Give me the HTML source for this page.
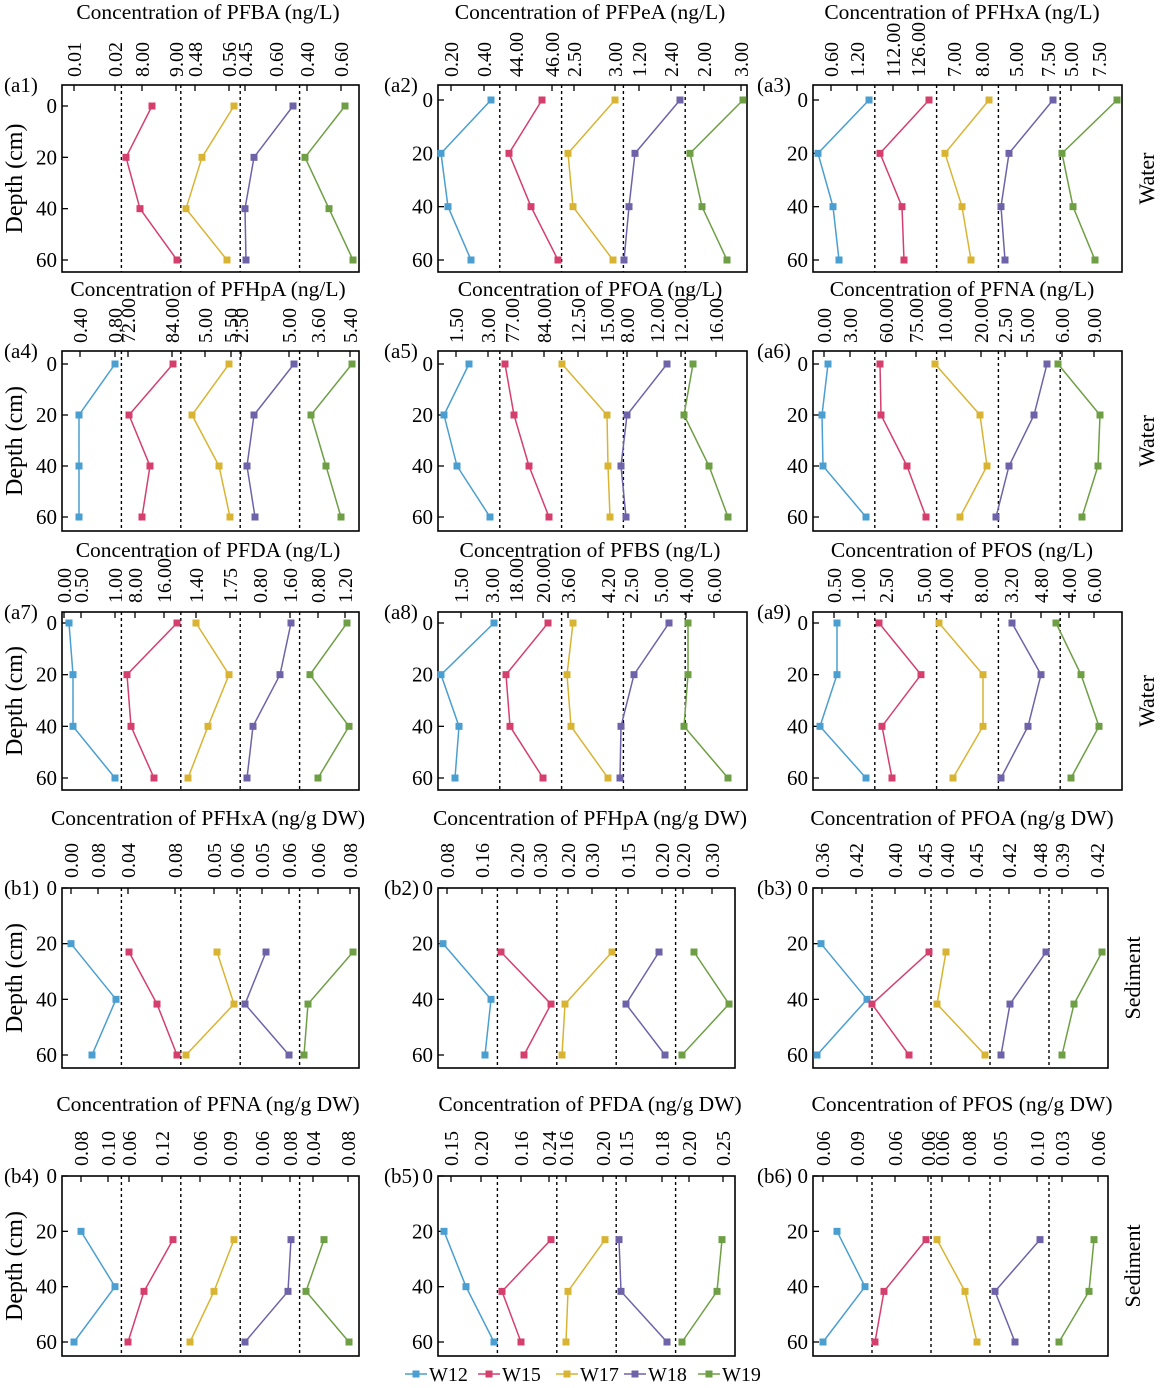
<!DOCTYPE html>
<html><head><meta charset="utf-8"><style>
html,body{margin:0;padding:0;background:#fff}
svg{display:block;font-family:"Liberation Serif",serif}
</style></head><body>
<svg id="s" width="1160" height="1388" viewBox="0 0 1160 1388" xmlns="http://www.w3.org/2000/svg"></svg>
<script>
const COL=['#4a9fd0','#d43f6e','#d9b433','#6e63a8','#6e9f44'];
const rows={
 r1:{T:85,B:272,y0:100,y60:260,tb:19,te:77,sed:false},
 r2:{T:351,B:531,y0:364,y60:517,tb:296,te:343,sed:false},
 r3:{T:612,B:790,y0:623,y60:778,tb:557,te:603,sed:false},
 b1:{T:888,B:1068,y0:888,y60:1055,tb:825,te:878,sed:true},
 b2:{T:1176,B:1356,y0:1176,y60:1342,tb:1111,te:1166,sed:true}
};
const P=[
{r:'r1',c:0,L:62,R:359,y0:106,t:'Concentration of PFBA (ng/L)',lab:'(a1)',
 x:[null,[152,126,140,177],[234,202,186,227],[293,254,245,246],[345,305,329,353]],
 tk:[['0.01',74],['0.02',115],['8.00',142],['9.00',176],['0.48',195],['0.56',229],['0.45',245],['0.60',276],['0.40',307],['0.60',341]]},
{r:'r1',c:1,L:438,R:747,t:'Concentration of PFPeA (ng/L)',lab:'(a2)',
 x:[[491,441,448,471],[542,509,531,558],[615,568,573,613],[680,635,629,624],[743,690,702,727]],
 tk:[['0.20',451],['0.40',484],['44.00',516],['46.00',552],['2.50',574],['3.00',615],['1.20',639],['2.40',671],['2.00',704],['3.00',741]]},
{r:'r1',c:2,L:813,R:1122,t:'Concentration of PFHxA (ng/L)',lab:'(a3)',
 x:[[869,818,833,839],[929,880,902,904],[989,945,962,971],[1053,1009,1001,1005],[1117,1062,1073,1095]],
 tk:[['0.60',831],['1.20',857],['112.00',893],['126.00',918],['7.00',954],['8.00',982],['5.00',1016],['7.50',1048],['5.00',1071],['7.50',1099]]},
{r:'r2',c:0,L:62,R:359,t:'Concentration of PFHpA (ng/L)',lab:'(a4)',
 x:[[115,79,79,79],[173,129,150,142],[229,192,219,230],[294,254,247,255],[352,311,326,341]],
 tk:[['0.40',80],['0.80',115],['72.00',128],['84.00',172],['5.00',205],['5.50',231],['2.50',241],['5.00',289],['3.60',318],['5.40',350]]},
{r:'r2',c:1,L:438,R:747,t:'Concentration of PFOA (ng/L)',lab:'(a5)',
 x:[[469,444,457,490],[505,514,529,549],[562,607,608,610],[667,627,621,626],[693,684,709,728]],
 tk:[['1.50',456],['3.00',488],['77.00',512],['84.00',544],['12.50',578],['15.00',607],['8.00',627],['12.00',657],['12.00',681],['16.00',716]]},
{r:'r2',c:2,L:813,R:1122,t:'Concentration of PFNA (ng/L)',lab:'(a6)',
 x:[[828,822,823,866],[880,881,907,926],[935,980,987,960],[1047,1034,1009,996],[1058,1100,1098,1082]],
 tk:[['0.00',824],['3.00',850],['60.00',886],['75.00',916],['10.00',945],['20.00',981],['2.50',1005],['5.00',1027],['6.00',1062],['9.00',1094]]},
{r:'r3',c:0,L:62,R:359,t:'Concentration of PFDA (ng/L)',lab:'(a7)',
 x:[[69,73,73,115],[177,127,131,154],[196,229,208,188],[291,280,253,247],[347,310,349,318]],
 tk:[['0.00',64],['0.50',81],['1.00',115],['8.00',135],['16.00',164],['1.40',196],['1.75',230],['0.80',260],['1.60',290],['0.80',318],['1.20',345]]},
{r:'r3',c:1,L:438,R:747,t:'Concentration of PFBS (ng/L)',lab:'(a8)',
 x:[[494,441,459,455],[548,506,510,543],[573,567,571,608],[669,634,621,620],[688,688,684,728]],
 tk:[['1.50',461],['3.00',492],['18.00',516],['20.00',543],['3.60',568],['4.20',608],['2.50',631],['5.00',661],['4.00',686],['6.00',714]]},
{r:'r3',c:2,L:813,R:1122,t:'Concentration of PFOS (ng/L)',lab:'(a9)',
 x:[[837,837,820,866],[879,921,882,892],[939,983,983,953],[1012,1041,1028,1001],[1056,1081,1099,1071]],
 tk:[['0.50',834],['1.00',858],['2.50',886],['5.00',924],['4.00',946],['8.00',981],['3.20',1011],['4.80',1041],['4.00',1069],['6.00',1094]]},
{r:'b1',c:0,L:62,R:359,t:'Concentration of PFHxA (ng/g DW)',lab:'(b1)',
 x:[[71,116,92],[129,157,177],[217,234,186],[266,245,289],[353,308,304]],
 tk:[['0.00',71],['0.08',98],['0.04',128],['0.08',175],['0.05',214],['0.06',237],['0.05',262],['0.06',289],['0.06',318],['0.08',350]]},
{r:'b1',c:1,L:438,R:735,t:'Concentration of PFHpA (ng/g DW)',lab:'(b2)',
 x:[[443,491,485],[501,551,524],[612,565,562],[659,626,665],[694,729,682]],
 tk:[['0.08',447],['0.16',482],['0.20',517],['0.30',540],['0.20',568],['0.30',592],['0.15',628],['0.20',662],['0.20',683],['0.30',712]]},
{r:'b1',c:2,L:813,R:1108,t:'Concentration of PFOA (ng/g DW)',lab:'(b3)',
 x:[[821,867,817],[929,872,909],[946,937,985],[1046,1010,1001],[1102,1074,1062]],
 tk:[['0.36',822],['0.42',856],['0.40',895],['0.45',925],['0.40',947],['0.45',976],['0.42',1009],['0.48',1040],['0.39',1062],['0.42',1097]]},
{r:'b2',c:0,L:62,R:359,t:'Concentration of PFNA (ng/g DW)',lab:'(b4)',
 x:[[81,115,74],[173,144,128],[234,214,190],[291,288,245],[324,306,349]],
 tk:[['0.08',81],['0.10',108],['0.06',129],['0.12',162],['0.06',200],['0.09',230],['0.06',262],['0.08',290],['0.04',313],['0.08',348]]},
{r:'b2',c:1,L:438,R:735,t:'Concentration of PFDA (ng/g DW)',lab:'(b5)',
 x:[[444,466,494],[551,502,521],[605,568,566],[619,621,667],[722,717,682]],
 tk:[['0.15',451],['0.20',481],['0.16',521],['0.24',549],['0.16',566],['0.20',603],['0.15',626],['0.18',662],['0.20',689],['0.25',723]]},
{r:'b2',c:2,L:813,R:1108,t:'Concentration of PFOS (ng/g DW)',lab:'(b6)',
 x:[[837,865,823],[926,884,875],[937,965,977],[1040,995,1015],[1094,1089,1059]],
 tk:[['0.06',823],['0.09',857],['0.06',895],['0.06',928],['0.06',942],['0.08',969],['0.05',1000],['0.10',1037],['0.03',1062],['0.06',1098]]}
];
let h='';
const labX=[4,384,757], titleC=[208,590,962];
for(const p of P){
 const r=rows[p.r];const T=r.T,B=r.B,L=p.L,R=p.R;
 const y0=p.y0||r.y0,y60=r.y60;
 const yd=d=>y0+(y60-y0)*d/60;
 h+=`<text x="${titleC[p.c]}" y="${r.tb}" font-size="21.5" text-anchor="middle">${p.t}</text>`;
 h+=`<text x="${labX[p.c]}" y="${T+7}" font-size="21">${p.lab}</text>`;
 h+=`<rect x="${L}" y="${T}" width="${R-L}" height="${B-T}" fill="none" stroke="#000" stroke-width="1.6"/>`;
 const w=(R-L)/5;
 for(let i=1;i<5;i++){const x=L+w*i;h+=`<line x1="${x}" y1="${T}" x2="${x}" y2="${B}" stroke="#000" stroke-width="1.4" stroke-dasharray="3,3"/>`;}
 for(const [s,x] of p.tk){
  h+=`<line x1="${x}" y1="${T}" x2="${x}" y2="${T+6}" stroke="#000" stroke-width="1.3"/>`;
  h+=`<text transform="translate(${x+7},${r.te}) rotate(-90)" font-size="20">${s}</text>`;
 }
 for(const d of [0,20,40,60]){
  const y=yd(d);
  h+=`<line x1="${L}" y1="${y}" x2="${L+6}" y2="${y}" stroke="#000" stroke-width="1.3"/>`;
  h+=`<text x="${L-5}" y="${y+7}" font-size="21" text-anchor="end">${d}</text>`;
 }
 if(p.c==0) h+=`<text transform="translate(22,${(T+B)/2}) rotate(-90)" font-size="24" text-anchor="middle">Depth (cm)</text>`;
 if(p.c==2){
  if(r.sed) h+=`<text transform="translate(1140,${(T+B)/2}) rotate(-90)" font-size="22" text-anchor="middle">Sediment</text>`;
  else h+=`<text transform="translate(1154,${(T+B)/2}) rotate(-90)" font-size="22" text-anchor="middle">Water</text>`;
 }
 p.x.forEach((xs,k)=>{
  if(!xs)return;
  let ds;
  if(r.sed) ds = k==0?[20,40,60]:[23,41.7,60]; else ds=[0,20,40,60];
  const pts=xs.map((x,i)=>[x,yd(ds[i])]);
  h+=`<polyline points="${pts.map(a=>a.join(',')).join(' ')}" fill="none" stroke="${COL[k]}" stroke-width="1.5"/>`;
  for(const [x,y] of pts) h+=`<rect x="${x-3.5}" y="${y-3.5}" width="7" height="7" fill="${COL[k]}"/>`;
 });
}
const leg=[[405,'W12'],[478,'W15'],[556,'W17'],[624,'W18'],[698,'W19']];
leg.forEach(([x,n],k)=>{
 h+=`<line x1="${x}" y1="1374" x2="${x+22}" y2="1374" stroke="${COL[k]}" stroke-width="1.5"/>`;
 h+=`<rect x="${x+7.5}" y="1370.5" width="7" height="7" fill="${COL[k]}"/>`;
 h+=`<text x="${x+24}" y="1381" font-size="20">${n}</text>`;
});
document.getElementById('s').innerHTML=h;
</script>
</body></html>
